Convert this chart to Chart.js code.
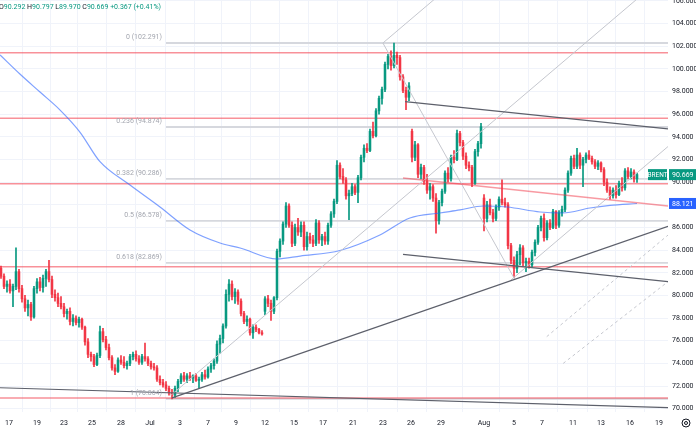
<!DOCTYPE html>
<html lang="en">
<head>
  <meta charset="UTF-8" />
  <title>BRENT 4H</title>
  <script src="https://cdn.jsdelivr.net/npm/chart.js"></script>
  <style>
    html, body { margin: 0; padding: 0; background: #fff; }
    #brentChart { display: block; }
  </style>
</head>
<body>
  <canvas id="brentChart" width="696" height="437"></canvas>

  <script>
    // 4H candles: [open, high, low, close]
    const candles = [
      [82.4,82.6,81.5,81.7],[81.7,81.9,80.6,80.8],[80.8,81.3,80.3,81.0],[81.0,81.4,80.2,80.4],[80.4,81.0,79.0,80.8],
      [80.8,84.2,80.5,82.1],[82.1,82.3,80.3,80.6],[80.6,80.9,79.4,79.7],[79.7,80.0,78.6,78.9],[78.9,79.6,78.2,79.2],
      [79.2,79.4,77.8,78.1],[78.1,80.8,78.0,80.6],[80.6,81.5,80.2,81.2],[81.2,81.6,80.4,80.7],[80.7,81.8,80.3,81.5],
      [81.5,82.3,80.8,82.1],[82.1,83.1,81.2,81.4],[81.4,81.7,79.8,80.1],[80.1,80.5,79.5,79.8],[79.8,80.2,79.0,79.3],
      [79.3,79.9,78.8,79.0],[79.0,79.3,78.1,78.4],[78.4,78.8,77.9,78.6],[78.6,78.9,77.4,77.7],[77.7,78.3,77.3,78.0],
      [78.0,78.2,77.4,77.6],[77.6,78.1,77.2,77.9],[77.9,78.0,77.0,77.2],[77.2,77.3,75.6,75.9],[75.9,76.2,74.5,74.8],
      [74.8,75.0,74.2,74.6],[74.6,74.8,73.7,73.9],[73.9,74.9,73.8,74.7],[74.7,77.3,74.5,76.8],[76.8,77.1,75.9,76.1],
      [76.1,76.4,75.2,75.4],[75.4,75.7,74.3,74.5],[74.5,74.7,73.4,73.6],[73.6,73.9,73.0,73.3],[73.3,74.5,73.2,74.3],
      [74.3,74.7,73.9,74.1],[74.1,74.6,73.6,73.8],[73.8,74.2,73.5,74.0],[74.0,74.8,73.8,74.6],[74.6,75.0,74.3,74.8],
      [74.8,75.1,74.2,74.4],[74.4,74.7,73.9,74.1],[74.1,74.8,73.9,74.6],[74.6,75.8,74.2,74.4],[74.4,74.6,73.8,74.0],
      [74.0,74.2,73.5,73.7],[73.7,74.0,73.4,73.6],[73.6,73.8,72.4,72.6],[72.6,72.9,72.1,72.3],[72.3,72.6,71.9,72.1],
      [72.1,72.4,71.6,71.8],[71.8,72.0,71.2,71.4],[71.4,71.7,70.86,71.2],[71.2,72.0,71.0,71.8],[71.8,72.6,71.5,72.4],
      [72.4,73.1,72.2,72.9],[72.9,73.2,72.4,72.6],[72.6,73.1,72.3,72.9],[72.9,73.2,72.5,72.7],[72.7,73.0,72.3,72.9],
      [72.9,73.1,72.4,72.5],[72.5,72.8,71.8,72.6],[72.6,73.2,72.4,73.0],[73.0,73.4,72.6,72.8],[72.8,73.7,72.7,73.5],
      [73.5,74.0,73.2,73.8],[73.8,74.4,73.5,74.2],[74.2,76.0,74.0,75.7],[75.7,76.5,74.9,76.2],[76.2,77.5,75.8,77.3],
      [77.3,80.5,77.1,80.1],[80.1,81.4,79.5,81.0],[81.0,81.3,79.6,79.9],[79.9,80.6,79.3,80.3],[80.3,80.5,79.2,79.5],
      [79.5,79.7,78.2,78.4],[78.4,78.6,77.5,77.7],[77.7,78.2,77.3,77.9],[77.9,78.0,76.5,76.7],[76.7,77.4,76.2,77.2],
      [77.2,77.4,76.8,77.0],[77.0,77.1,76.6,76.7],[76.7,76.9,76.5,76.6],[78.6,79.9,78.3,79.7],[79.7,80.0,79.0,79.3],
      [79.3,79.6,77.8,78.6],[78.6,79.9,78.4,79.8],[79.8,84.1,79.6,83.9],[83.9,85.0,83.4,84.8],[84.8,86.5,84.5,86.3],
      [86.3,88.2,86.0,87.9],[87.9,88.1,86.0,86.2],[86.2,86.5,84.3,84.6],[84.6,86.3,84.4,86.0],[86.0,86.8,85.3,85.6],
      [85.6,86.5,85.2,86.2],[86.2,86.5,84.0,84.3],[84.3,85.6,84.0,85.2],[85.2,85.5,84.6,84.9],[84.9,85.3,84.3,84.6],
      [84.6,86.7,84.4,86.4],[86.4,86.6,84.6,84.9],[84.9,85.4,84.4,85.2],[85.2,85.6,84.5,84.8],[84.8,86.4,84.5,86.2],
      [86.2,87.4,86.0,87.2],[87.2,88.5,86.9,88.3],[88.3,91.9,88.1,91.5],[91.5,91.7,90.3,90.5],[90.5,91.2,89.9,90.2],
      [90.2,90.4,88.5,88.8],[88.8,89.3,86.7,89.0],[89.0,89.9,88.8,89.6],[89.6,89.8,88.9,89.1],[89.1,90.6,88.2,90.4],
      [90.4,92.4,90.2,92.2],[92.2,93.3,91.8,93.0],[93.0,93.4,92.6,92.8],[92.8,94.7,92.7,94.5],[94.5,95.3,93.9,94.1],
      [94.1,96.5,94.0,96.3],[96.3,97.6,96.0,97.4],[97.4,98.4,96.9,98.2],[98.2,100.6,98.0,100.4],[100.4,101.3,100.0,101.1],
      [101.1,101.6,99.9,100.3],[100.3,102.29,100.1,101.2],[101.2,101.5,100.4,101.0],[101.0,101.2,99.0,99.3],[99.3,99.5,97.9,98.1],
      [98.1,98.4,96.4,97.5],[97.5,98.8,97.2,98.5],[94.5,94.7,91.8,92.2],[92.2,93.6,91.9,93.3],[93.3,93.4,90.4,90.7],
      [90.7,91.6,90.3,91.3],[91.3,91.5,89.8,90.1],[90.1,90.7,89.0,89.3],[89.3,89.9,88.5,89.6],[89.6,89.8,88.3,88.6],
      [88.6,89.0,85.5,86.6],[86.6,88.4,86.3,88.2],[88.2,89.4,87.9,89.2],[89.2,91.0,89.0,90.8],[90.8,91.3,90.0,90.3],
      [90.3,92.4,90.1,92.2],[92.2,92.8,91.7,92.0],[92.0,94.6,91.9,94.3],[94.3,94.5,93.2,93.5],[93.5,93.7,92.0,92.3],
      [92.3,92.6,91.2,91.5],[91.5,91.8,91.0,91.3],[91.3,91.5,89.6,89.9],[89.9,92.9,89.8,92.7],[92.7,93.6,92.3,93.4],
      [93.4,95.2,93.0,94.9],[88.6,88.9,85.7,86.8],[86.8,88.3,86.5,88.0],[88.0,88.5,87.1,87.3],[87.3,87.6,86.5,86.8],
      [86.8,88.0,86.6,87.8],[87.8,88.7,87.5,88.5],[88.5,90.2,88.0,88.2],[88.2,88.6,87.8,88.0],[88.0,88.2,84.1,84.4],
      [84.4,84.6,82.8,83.1],[83.1,83.4,81.6,82.4],[82.4,83.9,82.0,83.6],[83.6,84.5,82.7,84.2],[84.2,84.4,82.6,82.9],
      [82.9,83.3,82.1,83.0],[83.0,83.3,82.4,82.7],[82.7,84.0,82.5,83.8],[83.8,84.9,83.5,84.7],[84.7,86.2,84.5,86.0],
      [86.0,87.0,85.7,86.8],[86.8,87.2,84.8,85.1],[85.1,86.6,84.9,86.4],[86.4,86.7,85.8,86.0],[86.0,87.6,85.9,87.4],
      [87.4,87.5,85.9,86.2],[86.2,87.5,86.0,87.3],[87.3,87.9,87.0,87.6],[87.6,89.5,87.4,89.3],[89.3,91.0,89.1,90.8],
      [90.8,92.3,90.6,92.1],[92.1,92.4,91.2,91.4],[91.4,93.0,91.2,92.4],[92.4,92.6,91.2,91.5],[91.5,92.2,89.6,92.0],
      [92.0,92.6,91.7,92.4],[92.4,92.8,92.0,92.1],[92.1,92.3,91.6,91.8],[91.8,92.0,91.2,91.4],[91.4,91.9,91.1,91.7],
      [91.7,91.8,90.9,91.1],[91.1,91.3,89.7,90.0],[90.0,90.3,89.1,89.3],[89.3,89.6,88.5,88.8],[88.8,89.5,88.6,89.3],
      [89.3,89.7,88.6,88.9],[88.9,90.1,88.8,89.9],[89.9,90.4,89.2,89.5],[89.5,91.2,89.3,91.0],[91.0,91.3,90.3,90.5],
      [90.5,91.2,90.3,90.9],[90.9,91.1,90.0,90.3],[90.292,90.797,89.970,90.669]
    ];

    // time axis: candle index where each date label sits
    const tickIdx = [2.67, 12, 21, 30.33, 40, 49.67, 59.67, 69, 78.33, 88, 97.67, 107.33,
                     117.33, 127.33, 136.67, 146.67, 161, 171, 180.33, 190.67, 200, 209.67, 219.33];
    const tickLabels = ['17', '19', '23', '25', '28', 'Jul', '3', '7', '9', '12', '15', '17',
                        '21', '23', '26', '29', 'Aug', '5', '7', '11', '13', '16', '19'];
    const priceTicks = [70, 72, 74, 76, 78, 80, 82, 84, 86, 88, 90, 92, 94, 96, 98, 100, 102, 104, 106];

    // moving average, sampled [candle index, price]
    const maPoints = [
      [-0.3, 101.23], [6.3, 99.55], [13, 97.96], [19.7, 96.37], [26.3, 94.43], [33, 91.81],
      [43, 89.75], [53, 87.81], [63, 85.78], [73, 84.63], [79.7, 84.19], [92, 83.22],
      [99.7, 83.48], [113, 83.97], [126.3, 85.34], [136.3, 86.84], [146.3, 87.28], [153, 87.55],
      [160.7, 87.9], [168.7, 87.81], [179.7, 87.37], [187.3, 87.28], [196.3, 87.72], [203, 87.95], [212, 88.121]
    ];
    const maLast = 88.121;

    const redLevels = [101.44, 95.64, 89.87, 82.54, 70.94];
    const fibRatios = ['0', '0.236', '0.382', '0.5', '0.618', '1'];
    const fibPrices = [102.291, 94.874, 90.286, 86.578, 82.869, 70.864];
    const fibStart = 55;

    // drawings: [index1, price1, index2, price2]
    const darkLines = [
      [-0.33, 71.85, 222.33, 70.10],
      [57, 70.95, 222.33, 86.1],
      [134, 83.62, 222.33, 81.22],
      [134.7, 97.12, 222.33, 94.70]
    ];
    const lightLines = [
      [56.7, 71.2, 222.33, 108.5],
      [169.7, 81.3, 222.33, 93.15],
      [127.3, 102.29, 145.3, 106.34],
      [127.3, 102.29, 171.3, 81.4]
    ];
    const dashedLines = [
      [181.9, 76.36, 222.33, 85.33],
      [187.4, 74.0, 222.33, 81.22]
    ];
    const redSlope = [134, 90.37, 222.33, 87.9];

    const header = [['O', '90.292'], ['H', '90.797'], ['L', '89.970'], ['C', '90.669'], ['', '+0.367 (+0.41%)']];
    const symbol = 'BRENT';
    const lastClose = 90.669;

    const UP = '#089981';
    const DOWN = '#f23645';
    const FONT = 'Roboto, "Liberation Sans", sans-serif';
    const X_MIN = -0.33, X_MAX = 222.33;

    function segment(l, color, width, dash, order) {
      return {
        type: 'line',
        data: [{ x: l[0], y: l[1] }, { x: l[2], y: l[3] }],
        borderColor: color,
        borderWidth: width,
        borderDash: dash || [],
        pointRadius: 0,
        fill: false,
        order: order
      };
    }

    const candleColor = ctx => {
      const c = candles[ctx.dataIndex];
      return c && c[3] >= c[0] ? UP : DOWN;
    };

    const datasets = [];

    redLevels.forEach(p => datasets.push(segment([X_MIN, p, X_MAX, p], 'rgba(242,54,69,0.55)', 1.5, null, 6)));
    fibPrices.forEach(p => datasets.push(segment([fibStart, p, X_MAX, p], '#d6d8de', 1.8, null, 6)));

    datasets.push({
      type: 'bar',
      data: candles.map((c, i) => ({ x: i, y: [c[2], c[1]] })),
      backgroundColor: candleColor,
      barThickness: 1,
      grouped: false,
      order: 4
    });
    datasets.push({
      type: 'bar',
      data: candles.map((c, i) => ({ x: i, y: [c[0], c[3]] })),
      backgroundColor: candleColor,
      barThickness: 1.9,
      minBarLength: 1,
      grouped: false,
      order: 3
    });

    datasets.push({
      type: 'line',
      data: maPoints.map(p => ({ x: p[0], y: p[1] })),
      borderColor: 'rgba(41,98,255,0.6)',
      borderWidth: 1.2,
      pointRadius: 0,
      cubicInterpolationMode: 'monotone',
      fill: false,
      order: 2
    });

    datasets.push(segment(redSlope, 'rgba(242,54,69,0.5)', 1.5, null, 1));
    lightLines.forEach(l => datasets.push(segment(l, '#c5c7ce', 1, null, 1)));
    dashedLines.forEach(l => datasets.push(segment(l, '#c5c7ce', 1, [3, 3], 1)));
    darkLines.forEach(l => datasets.push(segment(l, '#5d606b', 1.2, null, 0)));

    const overlay = {
      id: 'overlay',
      afterDraw(chart) {
        const { ctx, scales: { x, y } } = chart;
        ctx.save();

        // OHLC header
        ctx.font = '7px ' + FONT;
        ctx.textBaseline = 'middle';
        ctx.textAlign = 'left';
        let hx = -1;
        header.forEach(([k, v]) => {
          if (k) {
            ctx.fillStyle = '#131722';
            ctx.fillText(k, hx, 7);
            hx += ctx.measureText(k).width;
          }
          ctx.fillStyle = UP;
          ctx.fillText(v, hx, 7);
          hx += ctx.measureText(v + ' ').width;
        });

        // fib labels
        ctx.fillStyle = '#a3a6af';
        ctx.textAlign = 'right';
        ctx.textBaseline = 'bottom';
        const fx = x.getPixelForValue(fibStart) - 4;
        fibPrices.forEach((p, i) => {
          ctx.fillText(fibRatios[i] + ' (' + p.toFixed(3) + ')', fx, y.getPixelForValue(p) - 2.5);
        });

        // price boxes on the axis
        ctx.textBaseline = 'middle';
        const ax = chart.chartArea.right;
        const yc = y.getPixelForValue(lastClose);
        ctx.fillStyle = UP;
        ctx.fillRect(ax - 20, yc - 5.5, 19, 11);
        ctx.fillRect(ax + 1, yc - 5.5, 28, 11);
        ctx.fillStyle = '#fff';
        ctx.textAlign = 'center';
        ctx.font = '6.5px ' + FONT;
        ctx.fillText(symbol, ax - 10.5, yc + 0.5);
        ctx.font = '7px ' + FONT;
        ctx.textAlign = 'left';
        ctx.fillText(lastClose.toFixed(3), ax + 4, yc + 0.5);

        const ym = y.getPixelForValue(maLast);
        ctx.fillStyle = '#2962ff';
        ctx.fillRect(ax + 1, ym - 5.5, 28, 11);
        ctx.fillStyle = '#fff';
        ctx.fillText(maLast.toFixed(3), ax + 4, ym + 0.5);

        // settings icon
        ctx.strokeStyle = '#131722';
        ctx.lineWidth = 1;
        ctx.beginPath();
        ctx.arc(686, 423, 4, 0, Math.PI * 2);
        ctx.stroke();
        ctx.beginPath();
        ctx.arc(686, 423, 1.5, 0, Math.PI * 2);
        ctx.stroke();

        ctx.restore();
      }
    };

    new Chart(document.getElementById('brentChart'), {
      type: 'bar',
      data: { datasets },
      options: {
        responsive: false,
        animation: false,
        layout: { padding: 0 },
        plugins: { legend: { display: false }, tooltip: { enabled: false } },
        scales: {
          x: {
            type: 'linear',
            min: X_MIN,
            max: X_MAX,
            offset: false,
            grid: { color: '#f0f3fa', drawTicks: false },
            border: { display: false },
            ticks: {
              autoSkip: false,
              maxRotation: 0,
              padding: 7,
              color: '#131722',
              font: { family: FONT, size: 7 },
              callback: (v, i) => tickLabels[i]
            },
            afterBuildTicks: s => { s.ticks = tickIdx.map(v => ({ value: v })); },
            afterFit: s => { s.height = 25; s.paddingLeft = 0; s.paddingRight = 0; }
          },
          y: {
            type: 'linear',
            position: 'right',
            min: 69.708,
            max: 106.088,
            grid: { color: '#f0f3fa', drawTicks: false },
            border: { display: false },
            ticks: {
              padding: 4,
              color: '#131722',
              font: { family: FONT, size: 7 },
              callback: v => v.toFixed(3)
            },
            afterBuildTicks: s => { s.ticks = priceTicks.map(v => ({ value: v })); },
            afterFit: s => { s.width = 28; s.paddingTop = 0; s.paddingBottom = 0; }
          }
        }
      },
      plugins: [overlay]
    });
  </script>
</body>
</html>
